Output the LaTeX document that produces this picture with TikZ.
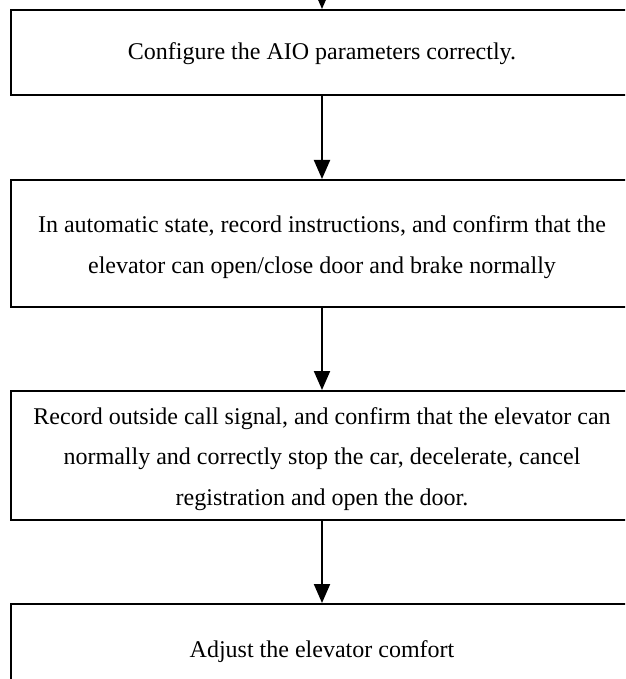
\documentclass[tikz,border=0pt]{standalone}
\usepackage{fontspec}
\setmainfont{Liberation Serif}
\usetikzlibrary{arrows.meta}
\begin{document}
\begin{tikzpicture}[x=1pt,y=-1pt,
  stepbox/.style={draw,line width=2pt,minimum width=622pt,inner sep=0pt},
  steptext/.style={align=center,inner sep=0pt,font=\fontsize{24}{40.5}\selectfont},
  flow/.style={line width=2pt,-{Triangle[length=19pt,width=16pt]}}]
\useasboundingbox (0,0) rectangle (625,679);
\clip (0,0) rectangle (625,679);
\node[stepbox,minimum height=85pt] (b1) at (322,52.5) {};
\node[stepbox,minimum height=127pt] (b2) at (322,243.5) {};
\node[stepbox,minimum height=129pt] (b3) at (322,455.5) {};
\node[stepbox,minimum height=90pt] (b4) at (322,649) {};
\node[steptext] (t1) at ([yshift=-1.5pt]b1.center) {Configure the AIO parameters correctly.};
\node[steptext] (t2) at ([yshift=-3.5pt]b2.center) {In automatic state, record instructions, and confirm that the\\elevator can open/close door and brake normally};
\node[steptext] (t3) at ([yshift=-3.5pt]b3.center) {Record outside call signal, and confirm that the elevator can\\normally and correctly stop the car, decelerate, cancel\\registration and open the door.};
\node[steptext] (t4) at ([yshift=-3pt]b4.center) {Adjust the elevator comfort};
\coordinate (top) at (322,-12);
\draw[flow] (top) -- (b1.north);
\draw[flow] (b1) -- (b2);
\draw[flow] (b2) -- (b3);
\draw[flow] (b3) -- (b4);
\end{tikzpicture}
\end{document}
